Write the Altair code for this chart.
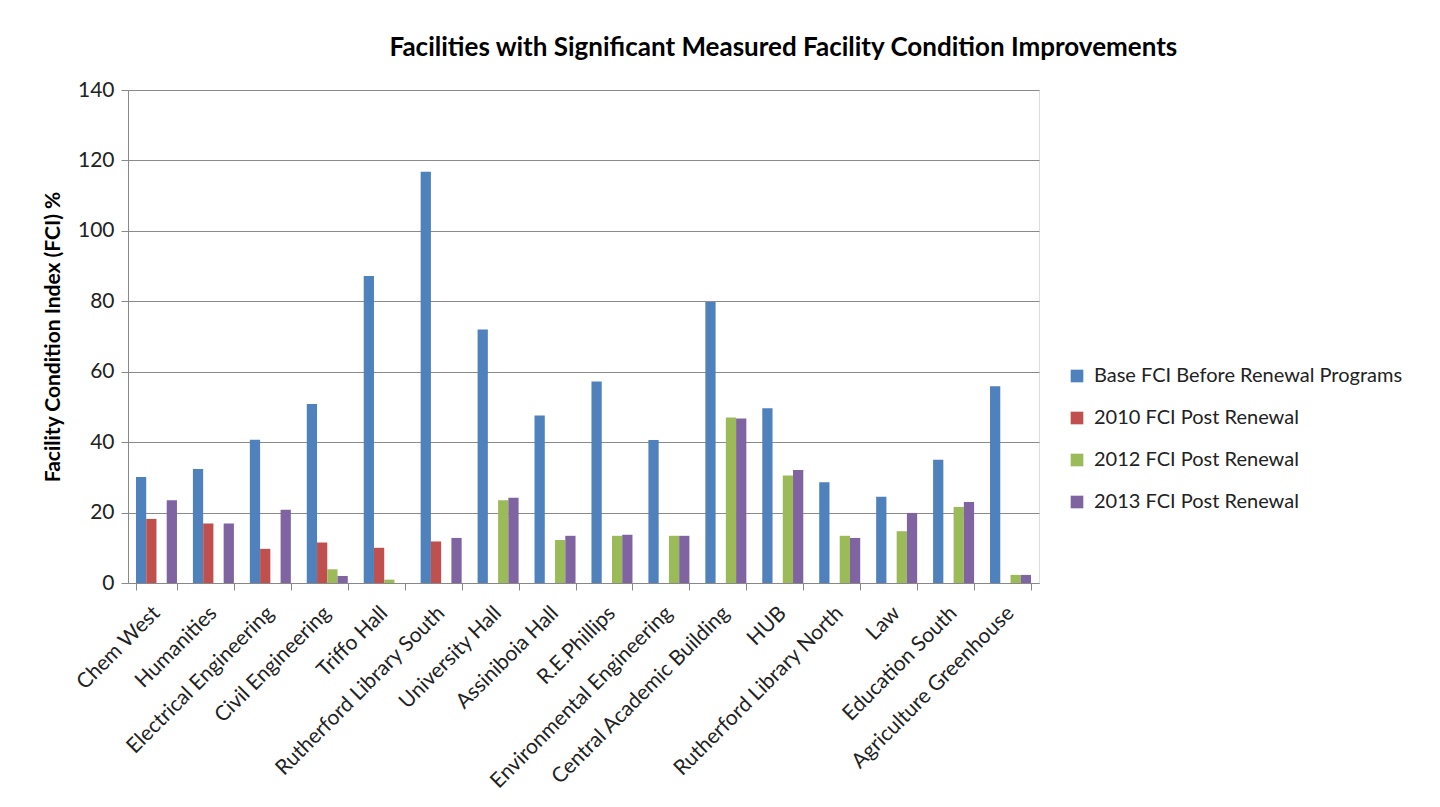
import altair as alt
import pandas as pd

categories = ["Chem West", "Humanities", "Electrical Engineering", "Civil Engineering",
              "Triffo Hall", "Rutherford Library South", "University Hall", "Assiniboia Hall",
              "R.E.Phillips", "Environmental Engineering", "Central Academic Building", "HUB",
              "Rutherford Library North", "Law", "Education South", "Agriculture Greenhouse"]
series = ["Base FCI Before Renewal Programs", "2010 FCI Post Renewal",
          "2012 FCI Post Renewal", "2013 FCI Post Renewal"]
colors = ["#4F81BD", "#C0504D", "#9BBB59", "#8064A2"]

base = [30.1, 32.4, 40.7, 50.8, 87.2, 116.8, 72.0, 47.6, 57.2, 40.6, 79.8, 49.6, 28.6, 24.5, 35.0, 55.9]
fci2010 = [18.2, 16.9, 9.7, 11.5, 10.0, 11.8, None, None, None, None, None, None, None, None, None, None]
fci2012 = [None, None, None, 3.9, 0.95, None, 23.5, 12.2, 13.4, 13.4, 47.0, 30.5, 13.4, 14.7, 21.6, 2.3]
fci2013 = [23.5, 16.9, 20.8, 2.0, None, 12.8, 24.2, 13.4, 13.7, 13.4, 46.7, 32.1, 12.8, 19.9, 23.0, 2.3]

rows = []
for s, vals in zip(series, [base, fci2010, fci2012, fci2013]):
    for c, v in zip(categories, vals):
        if v is not None:
            rows.append({"cat": c, "series": s, "value": v})
df = pd.DataFrame(rows)

FONT = "Lato"

chart = alt.Chart(df).mark_bar().encode(
    x=alt.X("cat:N", sort=categories, title=None,
            scale=alt.Scale(paddingInner=0.28, paddingOuter=0.14),
            axis=alt.Axis(labelAngle=-45, tickBand="extent", tickSize=7,
                          labelFontSize=21, labelColor="#222222", labelPadding=12,
                          labelOffset=-8, labelLimit=500,
                          domainColor="#888888", tickColor="#888888", labelFont=FONT)),
    xOffset=alt.XOffset("series:N", sort=series,
                        scale=alt.Scale(domain=series, paddingInner=0, paddingOuter=0)),
    y=alt.Y("value:Q", title="Facility Condition Index (FCI) %",
            scale=alt.Scale(domain=[0, 140], nice=False),
            axis=alt.Axis(values=list(range(0, 141, 20)), tickSize=7, labelFontSize=21,
                          labelColor="#222222", labelPadding=7, gridColor="#8a8a8a",
                          domainColor="#888888", tickColor="#888888", labelFont=FONT,
                          titleFont=FONT, titleFontSize=21, titleFontWeight="bold",
                          titleColor="#000000", titlePadding=14)),
    color=alt.Color("series:N", sort=series,
                    scale=alt.Scale(domain=series, range=colors),
                    legend=alt.Legend(title=None, orient="none", legendX=939, legendY=276,
                                      symbolType="square", symbolSize=160,
                                      symbolStrokeWidth=0, labelFontSize=20,
                                      labelFont=FONT, labelColor="#222222",
                                      rowPadding=22, labelOffset=7, labelLimit=500)),
).properties(
    width=911,
    height=493,
    title=alt.TitleParams("Facilities with Significant Measured Facility Condition Improvements",
                          anchor="start", dx=347, offset=18, fontSize=26, font=FONT,
                          fontWeight="bold", color="#000000"),
    autosize=alt.AutoSizeParams(type="none"),
    padding={"left": 120, "top": 82, "right": 390, "bottom": 214},
).configure_view(stroke=None).configure(background="white")

chart.save("out.html", embed_options={"renderer": "svg", "actions": False})
